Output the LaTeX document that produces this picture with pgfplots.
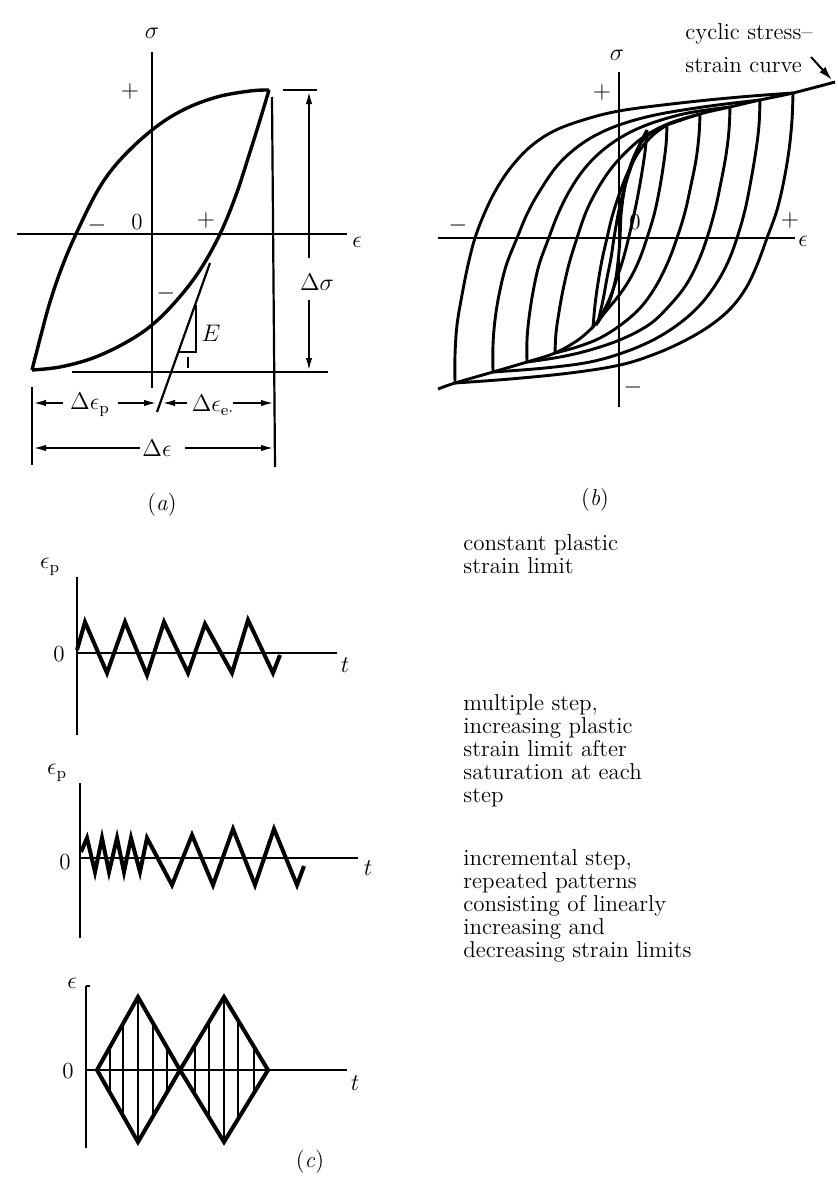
\documentclass[border=0pt]{standalone}
\usepackage{pgfplots}
\pgfplotsset{compat=1.18}
\usetikzlibrary{arrows.meta}
\pgfplotsset{
  loopA/.style={black, line width=1.7pt, smooth, tension=0.6},
  loopB/.style={black, line width=1.45pt, smooth, tension=0.6},
  axA/.style={black, line width=1.0pt},
  thin/.style={black, line width=1.1pt},
  dim/.style={black, line width=1.0pt, -{Latex[length=6.5pt,width=3.2pt]}},
  zig/.style={black, line width=2.0pt, line join=miter},
  axC/.style={black, line width=1.4pt},
}
\tikzset{lab/.style={font=\fontsize{11.5}{12}\selectfont, inner sep=0pt}}
\begin{document}
\begin{tikzpicture}
\begin{axis}[
  scale only axis, width=418.5pt, height=591pt,
  xmin=0, xmax=837, ymin=0, ymax=1182, y dir=reverse,
  hide axis, clip=false,
]
% ---------------- panel (a) ----------------
\addplot[axA] coordinates {(152,52) (152,388)};
\addplot[axA] coordinates {(17,234) (347,234)};
% hysteresis loop
\addplot[loopA] coordinates {(32,370) (41,335) (50,302) (62,267) (76,234) (98,190) (120,160) (152,130) (183,110) (217,97) (250,91) (269,90)};
\addplot[loopA] coordinates {(269,90) (260,120) (250,152) (236,195) (220,234) (200,270) (177,300) (152,325) (125,343) (93,358) (60,367) (32,370)};
% reference lines
\addplot[thin] coordinates {(272,97) (275,467)};
\addplot[thin] coordinates {(32,387) (32,465)};
\addplot[thin] coordinates {(283,90) (317,90)};
\addplot[thin] coordinates {(72,372) (328,372)};
% elastic unloading line and E triangle
\addplot[thin] coordinates {(210,263) (157,412)};
\addplot[thin] coordinates {(178,352) (196,352) (196,305)};
\addplot[thin] coordinates {(188,357) (188,368)};
% dimension arrows
\addplot[dim] coordinates {(309,258) (309,91)};
\addplot[dim] coordinates {(309,300) (309,371)};
\addplot[dim] coordinates {(63,403) (33,403)};
\addplot[dim] coordinates {(118,403) (157,403)};
\addplot[dim] coordinates {(187,403) (162,403)};
\addplot[dim] coordinates {(233,403) (274,403)};
\addplot[dim] coordinates {(140,448) (33,448)};
\addplot[dim] coordinates {(185,448) (274,448)};
\node[lab] at (axis cs:152,33) {$\sigma$};
\node[lab] at (axis cs:357,242) {$\epsilon$};
\node[lab] at (axis cs:130,91) {$+$};
\node[lab] at (axis cs:97,225) {$-$};
\node[lab] at (axis cs:137,222) {0};
\node[lab] at (axis cs:206,220) {$+$};
\node[lab] at (axis cs:166,293) {$-$};
\node[lab] at (axis cs:211,333) {$E$};
\node[lab] at (axis cs:317,282) {$\Delta\sigma$};
\node[lab] at (axis cs:90,405) {$\Delta\epsilon_{\mathrm{p}}$};
\node[lab] at (axis cs:213,405) {$\Delta\epsilon_{\mathrm{e}\cdot}$};
\node[lab] at (axis cs:157,448) {$\Delta\epsilon$};
\node[lab] at (axis cs:162,505) {(\textit{a})};
% ---------------- panel (b) ----------------
\addplot[axA] coordinates {(619,72) (619,407)};
\addplot[axA] coordinates {(438,238) (795,238)};
% loop 1
\addplot[loopB] coordinates {(455,383) (455,355) (457,325) (462,295) (468,265) (475,238) (485,212) (497,188) (512,166) (530,147) (552,132) (580,121) (619,111) (680,103) (740,97) (793,93)};
\addplot[loopB] coordinates {(793,93) (792,120) (789,150) (784,180) (777,210) (767,238) (757,265) (746,288) (731,308) (711,325) (686,340) (655,354) (620,365) (570,373) (510,379) (455,383)};
% loop 2
\addplot[loopB] coordinates {(493,372) (493,345) (495,320) (499,295) (506,266) (517,238) (528,212) (541,189) (557,166) (576,148) (598,134) (625,123) (660,114) (710,106) (760,100)};
\addplot[loopB] coordinates {(760,100) (759,125) (756,150) (751,180) (745,210) (737,238) (728,262) (716,284) (700,305) (680,323) (655,339) (625,352) (590,362) (545,368) (493,372)};
% loop 3
\addplot[loopB] coordinates {(527,362) (527,340) (529,318) (533,292) (539,265) (548,240) (558,214) (570,190) (585,168) (603,150) (625,135) (652,123) (688,113) (730,107)};
\addplot[loopB] coordinates {(730,107) (729,130) (726,155) (721,182) (715,210) (707,238) (698,262) (686,285) (670,305) (650,324) (622,339) (590,350) (560,357) (527,362)};
% loop 4
\addplot[loopB] coordinates {(555,353) (556,333) (559,312) (563,290) (569,264) (577,238) (586,212) (597,190) (610,170) (626,152) (645,136) (670,123) (700,114)};
\addplot[loopB] coordinates {(700,114) (699,135) (696,160) (691,185) (685,212) (677,238) (668,262) (656,286) (641,307) (622,324) (600,338) (577,347) (555,353)};
% loop 5
\addplot[loopB] coordinates {(593,327) (595,305) (598,283) (602,260) (607,238) (612,217) (619,195) (628,172) (640,150) (653,135) (667,125)};
\addplot[loopB] coordinates {(667,125) (666,145) (663,168) (659,192) (654,215) (647,238) (640,258) (631,277) (620,294) (607,310) (593,327)};
% inner loop
\addplot[loopB] coordinates {(598,322) (603,300) (607,278) (611,258) (614,238) (618,215) (623,193) (630,170) (638,148) (647,130)};
\addplot[loopB] coordinates {(647,130) (645,152) (641,178) (636,205) (630,232) (624,256) (617,278) (609,300) (598,322)};
% cyclic stress-strain curve
\addplot[loopB] coordinates {(596,325) (608,305) (615,282) (618,262) (620,238) (621,215) (624,192) (629,170) (637,150) (647,136) (667,125)};
\addplot[loopB] coordinates {(438,389) (455,383) (493,372) (527,362) (555,353) (578,340) (593,327)};
\addplot[loopB] coordinates {(667,125) (700,114) (730,107) (760,100) (793,93) (835,82)};
\addplot[black, line width=1.0pt, -{Latex[length=7pt,width=4pt]}] coordinates {(811,57) (832,80)};
\node[lab] at (axis cs:617,55) {$\sigma$};
\node[lab] at (axis cs:803,241) {$\epsilon$};
\node[lab] at (axis cs:602,92) {$+$};
\node[lab] at (axis cs:635,222) {0};
\node[lab] at (axis cs:458,225) {$-$};
\node[lab] at (axis cs:790,220) {$+$};
\node[lab] at (axis cs:633,387) {$-$};
\node[lab, anchor=base west] at (axis cs:685,40) {cyclic stress--};
\node[lab, anchor=base west] at (axis cs:685,72) {strain curve};
\node[lab] at (axis cs:595,500) {(\textit{b})};
% ---------------- panel (c) : plot 1 ----------------
\addplot[axC] coordinates {(77,577) (77,735)};
\addplot[axC] coordinates {(77,653) (337,653)};
\addplot[zig] coordinates {(77,650) (85,622) (107,673) (125,622) (147,675) (164,622) (188,673) (205,624) (232,673) (248,620) (273,673) (280,655)};
\node[lab] at (axis cs:50,567) {$\epsilon_{\mathrm{p}}$};
\node[lab] at (axis cs:59,654) {0};
\node[lab] at (axis cs:345,665) {$t$};
% ---------------- panel (c) : plot 2 ----------------
\addplot[axC] coordinates {(80,783) (80,938)};
\addplot[axC] coordinates {(80,858) (358,858)};
\addplot[zig] coordinates {(81,852) (87,838) (95,872) (102,838) (109,872) (117,838) (124,872) (131,838) (140,872) (147,838) (172,885) (192,835) (213,885) (233,829) (255,885) (274,829) (297,885) (304,866)};
\node[lab] at (axis cs:57,773) {$\epsilon_{\mathrm{p}}$};
\node[lab] at (axis cs:65,862) {0};
\node[lab] at (axis cs:368,868) {$t$};
% ---------------- panel (c) : plot 3 ----------------
\addplot[axC] coordinates {(86,986) (86,1148)};
\addplot[axC] coordinates {(86,986) (90,986)};
\addplot[axC] coordinates {(86,1070) (347,1070)};
\addplot[zig] coordinates {(97,1070) (138,997) (180,1070) (224,997) (268,1070)};
\addplot[zig] coordinates {(97,1070) (138,1142) (180,1070) (224,1142) (268,1070)};
\addplot[thin] coordinates {(110,1047) (110,1093)};
\addplot[thin] coordinates {(123,1024) (123,1116)};
\addplot[thin] coordinates {(138,997) (138,1142)};
\addplot[thin] coordinates {(153,1023) (153,1117)};
\addplot[thin] coordinates {(167,1047) (167,1093)};
\addplot[thin] coordinates {(195,1045) (195,1095)};
\addplot[thin] coordinates {(209,1022) (209,1118)};
\addplot[thin] coordinates {(224,997) (224,1142)};
\addplot[thin] coordinates {(238,1020) (238,1120)};
\addplot[thin] coordinates {(254,1047) (254,1093)};
\node[lab] at (axis cs:72,983) {$\epsilon$};
\node[lab] at (axis cs:68,1071) {0};
\node[lab] at (axis cs:355,1083) {$t$};
\node[lab] at (axis cs:310,1162) {(\textit{c})};
% ---------------- descriptions ----------------
\node[lab, anchor=base west] at (axis cs:463,550) {constant plastic};
\node[lab, anchor=base west] at (axis cs:463,573) {strain limit};
\node[lab, anchor=base west] at (axis cs:463,710) {multiple step,};
\node[lab, anchor=base west] at (axis cs:463,733) {increasing plastic};
\node[lab, anchor=base west] at (axis cs:463,756) {strain limit after};
\node[lab, anchor=base west] at (axis cs:463,779) {saturation at each};
\node[lab, anchor=base west] at (axis cs:463,802) {step};
\node[lab, anchor=base west] at (axis cs:463,865) {incremental step,};
\node[lab, anchor=base west] at (axis cs:463,888) {repeated patterns};
\node[lab, anchor=base west] at (axis cs:463,911) {consisting of linearly};
\node[lab, anchor=base west] at (axis cs:463,934) {increasing and};
\node[lab, anchor=base west] at (axis cs:463,957) {decreasing strain limits};
\end{axis}
\path (current axis.south west) rectangle (current axis.north east);
\end{tikzpicture}
\end{document}
